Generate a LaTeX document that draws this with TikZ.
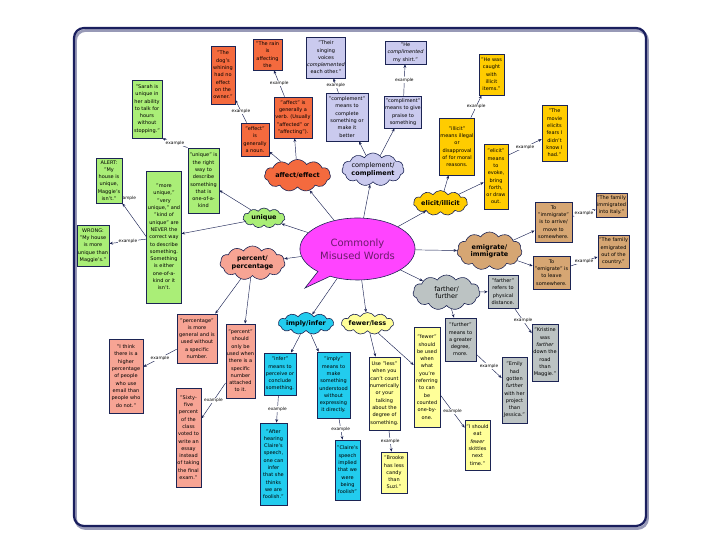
\documentclass[tikz,border=0pt]{standalone}
\usepackage{fontspec}
\setmainfont{DejaVu Sans}
\usetikzlibrary{shapes.symbols, shapes.callouts, arrows.meta, backgrounds}
\definecolor{ink}{HTML}{1C2454}
\definecolor{framenavy}{HTML}{1A1F5E}
\definecolor{bubble}{HTML}{FF44FF}
\definecolor{bubtext}{HTML}{6A1A6A}
\definecolor{redorange}{HTML}{F46A3E}
\definecolor{lavender}{HTML}{CACAEE}
\definecolor{gold}{HTML}{FFCC00}
\definecolor{sand}{HTML}{D6A673}
\definecolor{stone}{HTML}{BCC3C3}
\definecolor{lemon}{HTML}{FFFF99}
\definecolor{aqua}{HTML}{22CCEE}
\definecolor{salmon}{HTML}{F7A494}
\definecolor{lime}{HTML}{AAEE77}
\tikzset{
  % Word clouds
  word/.style={
    cloud, cloud puffs=11, cloud puff arc=115, cloud ignores aspect,
    draw=ink, line width=0.6pt, fill=#1, inner sep=0pt,
    align=center, font=\fontsize{6.5}{7.5}\selectfont\bfseries
  },
  % Definition and example cards
  card/.style={
    rectangle, draw=ink, line width=0.7pt, fill=#1, inner sep=1pt,
    align=center, font=\fontsize{5}{7.3}\selectfont
  },
  wh/.style 2 args={minimum width=#1pt, minimum height=#2pt},
  % Connectors
  link/.style={-{Stealth[length=3.5pt,width=2.8pt]}, line width=0.45pt, color=ink},
  exlabel/.style={font=\fontsize{4.3}{5}\selectfont, fill=white, inner sep=0.6pt, text=black},
}

\begin{document}
\begin{tikzpicture}[x=1pt, y=-1pt]
  \useasboundingbox (0,0) rectangle (720,540);

  % centre
  \node[ellipse callout, callout absolute pointer={(305,288)}, draw=ink, line width=0.6pt,
        fill=bubble, text=bubtext, wh={111}{62}, align=center,
        font=\fontsize{10}{13}\selectfont] (words) at (357.5,249) {Commonly\\Misused Words};

  % clouds
  \node[word=redorange, wh={66}{32}] (affectCl) at (297.5,175.5) {affect/effect};
  \node[word=lavender, wh={62}{33}] (complementCl) at (373,169.5) {\mdseries complement/\\compliment};
  \node[word=gold, wh={54}{25}] (elicitCl) at (440.5,203) {elicit/illicit};
  \node[word=sand, wh={65}{38}] (emigrateCl) at (489.5,251) {emigrate/\\immigrate};
  \node[word=stone, wh={67}{35}] (fartherCl) at (446.5,292.5) {\mdseries farther/\\\mdseries further};
  \node[word=lemon, wh={52}{22}] (fewerCl) at (367.5,323.5) {fewer/less};
  \node[word=aqua, wh={48}{22}] (implyCl) at (306,323.5) {imply/infer};
  \node[word=salmon, wh={65}{34}] (percentCl) at (252.5,263) {percent/\\percentage};
  \node[word=lime, wh={42}{20}] (uniqueCl) at (264,218) {unique};

  % affect / effect
  \node[card=redorange, wh={28}{33}] (effectDef) at (255,139.5) {"effect"\\is\\generally\\a noun.};
  \node[card=redorange, wh={38}{41}] (affectDef) at (293,117.5) {"affect" is\\generally a\\verb. (Usually\\"affected" or\\"affecting").};
  \node[card=redorange, wh={24}{58}] (dogEx) at (223,75) {"The\\dog's\\whining\\had no\\effect\\on the\\owner."};
  \node[card=redorange, wh={29}{31}] (rainEx) at (267.5,54.5) {"The rain\\is\\affecting\\the};

  % complement / compliment
  \node[card=lavender, wh={42}{48}] (complementDef) at (347,117) {"complement"\\means to\\complete\\something or\\make it\\better};
  \node[card=lavender, wh={34}{32}] (complimentDef) at (403,112) {"compliment"\\means to give\\praise to\\something};
  \node[card=lavender, wh={34}{41}] (singEx) at (326,57.5) {"Their\\singing\\voices\\\textit{complemented}\\each other."};
  \node[card=lavender, wh={41}{23}] (shirtEx) at (405.5,52.5) {"He\\\textit{complimented}\\my shirt."};

  % elicit / illicit
  \node[card=gold, wh={34}{57}] (illicitDef) at (457,146.5) {"illicit"\\means illegal\\or\\disapproval\\of for moral\\reasons.};
  \node[card=gold, wh={24}{65}] (elicitDef) at (496,176.5) {"elicit"\\means\\to\\evoke,\\bring\\forth,\\or draw\\out.};
  \node[card=gold, wh={25}{41}] (caughtEx) at (491.5,74.5) {"He was\\caught\\with\\illicit\\items."};
  \node[card=gold, wh={25}{56}] (movieEx) at (554.5,133) {"The\\movie\\elicits\\fears I\\didn't\\know I\\had."};

  % emigrate / immigrate
  \node[card=sand, wh={37}{40}] (immigrateDef) at (553.5,222) {To\\"immigrate"\\is to arrive/\\move to\\somewhere.};
  \node[card=sand, wh={37}{33}] (emigrateDef) at (551.5,272.5) {To\\"emigrate" is\\to leave\\somewhere.};
  \node[card=sand, wh={29}{24}] (immigratedEx) at (611.5,205) {"The family\\immigrated\\into Italy."};
  \node[card=sand, wh={31}{33}] (emigratedEx) at (613.5,251.5) {"The family\\emigrated\\out of the\\country."};

  % farther / further
  \node[card=stone, wh={30}{33}] (fartherDef) at (503,291.5) {"farther"\\refers to\\physical\\distance.};
  \node[card=stone, wh={31}{43}] (furtherDef) at (460.5,339.5) {"further"\\means to\\a greater\\degree,\\more.};
  \node[card=stone, wh={26}{57}] (kristineEx) at (545,352.5) {"Kristine\\was\\\textit{farther}\\down the\\road\\than\\Maggie."};
  \node[card=stone, wh={25}{66}] (emilyEx) at (514.5,390) {"Emily\\had\\gotten\\\textit{further}\\with her\\project\\than\\Jessica."};

  % fewer / less
  \node[card=lemon, wh={31}{73}] (lessDef) at (384.5,393.5) {Use "less"\\when you\\can't count\\numerically\\or your\\talking\\about the\\degree of\\something.};
  \node[card=lemon, wh={26}{100}] (fewerDef) at (427,377) {"fewer"\\should\\be used\\when\\what\\you're\\referring\\to can\\be\\counted\\one-by-\\one.};
  \node[card=lemon, wh={26}{41}] (candyEx) at (394,472.5) {"Brooke\\has less\\candy\\than\\Suzi."};
  \node[card=lemon, wh={25}{50}] (skittlesEx) at (477.5,445) {"I should\\eat\\\textit{fewer}\\skittles\\next\\time."};

  % imply / infer
  \node[card=aqua, wh={32}{42}] (inferDef) at (280,374) {"infer"\\means to\\perceive or\\conclude\\something.};
  \node[card=aqua, wh={33}{66}] (implyDef) at (333.5,385) {"imply"\\means to\\make\\something\\understood\\without\\expressing\\it directly.};
  \node[card=aqua, wh={27}{82}] (hearingEx) at (273.5,464) {"After\\hearing\\Claire's\\speech,\\one can\\infer\\that she\\thinks\\we are\\foolish."};
  \node[card=aqua, wh={25}{60}] (speechEx) at (347.5,470) {"Claire's\\speech\\implied\\that we\\were\\being\\foolish"};

  % percent / percentage
  \node[card=salmon, wh={40}{49}] (percentageDef) at (197,338.5) {"percentage"\\is more\\general and is\\used without\\a specific\\number.};
  \node[card=salmon, wh={29}{74}] (percentDef) at (240.5,361) {"percent"\\should\\only be\\used when\\there is a\\specific\\number\\attached\\to it.};
  \node[card=salmon, wh={34}{74}] (emailEx) at (126,376) {"I think\\there is a\\higher\\percentage\\of people\\who use\\email than\\people who\\do not."};
  \node[card=salmon, wh={25}{99}] (sixtyEx) at (188.5,437.5) {"Sixty-\\five\\percent\\of the\\class\\voted to\\write an\\essay\\instead\\of taking\\the final\\exam."};

  % unique
  \node[card=lime, wh={31}{65}] (uniqueDef) at (203.5,180.5) {"unique" is\\the right\\way to\\describe\\something\\that is\\one-of-a-\\kind};
  \node[card=lime, wh={34}{132}] (neverDef) at (164,237) {"more\\unique,"\\"very\\unique," and\\"kind of\\unique" are\\NEVER the\\correct way\\to describe\\something.\\Something\\is either\\one-of-a-\\kind or it\\isn't.};
  \node[card=lime, wh={30}{58}] (sarahEx) at (147,109) {"Sarah is\\unique in\\her ability\\to talk for\\hours\\without\\stopping."};
  \node[card=lime, wh={26}{45}] (alertEx) at (109,180.5) {ALERT:\\"My\\house is\\unique,\\Maggie's\\isn't."};
  \node[card=lime, wh={30}{41}] (wrongEx) at (93,245.5) {WRONG:\\"My house\\is more\\unique than\\Maggie's."};

  \begin{scope}[on background layer]
    % frame
    \draw[framenavy!45, line width=2.8pt, rounded corners=10pt] (75.5,30.5) rectangle (647.5,528.5);
    \draw[framenavy, line width=2.2pt, rounded corners=10pt] (74,28) rectangle (646,526);

    % from the centre
    \foreach \w in {affectCl, complementCl, elicitCl, emigrateCl, fartherCl,
                    fewerCl, implyCl, percentCl, uniqueCl}
      \draw[link] (words) -- (\w);

    % clouds to definitions
    \draw[link] (affectCl) -- (effectDef);
    \draw[link] (affectCl) -- (affectDef);
    \draw[link] (complementCl) -- (complementDef);
    \draw[link] (complementCl) -- (complimentDef);
    \draw[link] (elicitCl) -- (illicitDef);
    \draw[link] (elicitCl) -- (elicitDef);
    \draw[link] (emigrateCl) -- (immigrateDef);
    \draw[link] (emigrateCl) -- (emigrateDef);
    \draw[link] (fartherCl) -- (fartherDef);
    \draw[link] (fartherCl) -- (furtherDef);
    \draw[link] (fewerCl) -- (lessDef);
    \draw[link] (fewerCl) -- (fewerDef);
    \draw[link] (implyCl) -- (inferDef);
    \draw[link] (implyCl) -- (implyDef);
    \draw[link] (percentCl) -- (percentageDef);
    \draw[link] (percentCl) -- (percentDef);
    \draw[link] (uniqueCl) -- (uniqueDef);
    \draw[link] (uniqueCl) -- (neverDef);

    % definitions to examples
    \draw[link] (effectDef) -- node[exlabel]{example} (dogEx);
    \draw[link] (affectDef) -- node[exlabel]{example} (rainEx);
    \draw[link] (complementDef) -- node[exlabel]{example} (singEx);
    \draw[link] (complimentDef) -- node[exlabel]{example} (shirtEx);
    \draw[link] (illicitDef) -- node[exlabel]{example} (caughtEx);
    \draw[link] (elicitDef.60) -- node[exlabel]{example} (movieEx);
    \draw[link] (immigrateDef) -- node[exlabel]{example} (immigratedEx);
    \draw[link] (emigrateDef) -- node[exlabel]{example} (emigratedEx);
    \draw[link] (fartherDef) -- node[exlabel]{example} (kristineEx);
    \draw[link] (furtherDef) -- node[exlabel]{example} (emilyEx);
    \draw[link] (lessDef) -- node[exlabel]{example} (candyEx);
    \draw[link] (fewerDef) -- node[exlabel]{example} (skittlesEx);
    \draw[link] (inferDef) -- node[exlabel]{example} (hearingEx);
    \draw[link] (implyDef) -- node[exlabel]{example} (speechEx);
    \draw[link] (percentageDef) -- node[exlabel]{example} (emailEx);
    \draw[link] (percentDef) -- node[exlabel]{example} (sixtyEx);
    \draw[link] (uniqueDef.north west) -- node[exlabel]{example} (sarahEx.south east);
    \draw[link] (neverDef.west) -- node[exlabel, pos=0.9, xshift=2pt, yshift=8pt]{example} (alertEx.south east);
    \draw[link] (neverDef) -- node[exlabel]{example} (wrongEx);
  \end{scope}
\end{tikzpicture}
\end{document}
